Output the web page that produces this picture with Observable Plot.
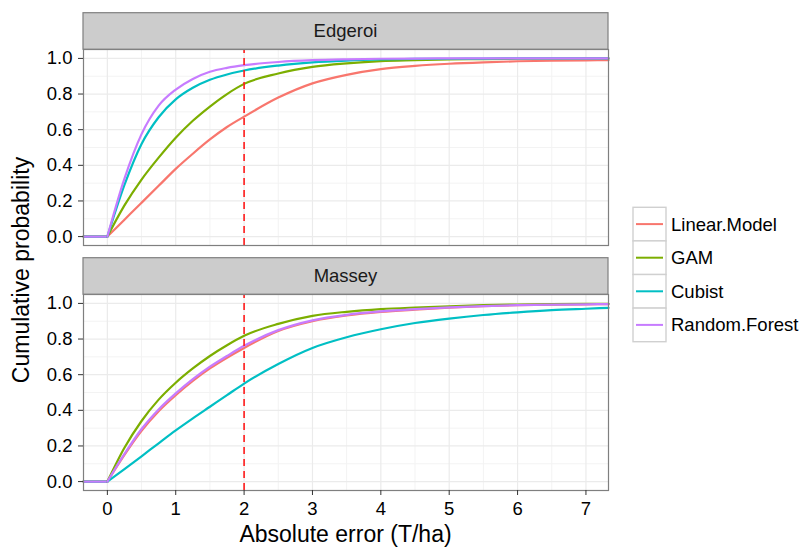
<!DOCTYPE html>
<html>
<head>
<meta charset="utf-8">
<script src="https://cdn.jsdelivr.net/npm/d3@7"></script>
<script src="https://cdn.jsdelivr.net/npm/@observablehq/plot@0.6"></script>
<style>
  html, body { margin: 0; padding: 0; background: #ffffff; }
  #chart { position: relative; width: 804px; height: 547px; }
</style>
</head>
<body>
<div id="chart"></div>
<script>
// ---- data ----
const sites = ["Edgeroi", "Massey"];
const methods = ["Linear.Model", "GAM", "Cubist", "Random.Forest"];
const methodColors = ["#F8766D", "#7CAE00", "#00BFC4", "#C77CFF"];

// absolute error (T/ha) at which the cumulative probabilities were read
const errX = [0, 0.25, 0.5, 0.75, 1, 1.25, 1.5, 1.75, 2, 2.5, 3, 3.5, 4, 4.5, 5, 5.5, 6, 6.5, 7, 7.33];

const edgeroiLinear = [0, 0.095, 0.19, 0.285, 0.38, 0.465, 0.545, 0.615, 0.673, 0.78, 0.86, 0.908, 0.94, 0.958, 0.97, 0.978, 0.984, 0.987, 0.989, 0.99];
const edgeroiGAM    = [0, 0.175, 0.32, 0.443, 0.555, 0.65, 0.73, 0.80, 0.857, 0.915, 0.952, 0.972, 0.985, 0.99, 0.994, 0.996, 0.998, 0.999, 1, 1];
const edgeroiCubist = [0, 0.29, 0.52, 0.67, 0.77, 0.835, 0.88, 0.91, 0.932, 0.96, 0.978, 0.988, 0.994, 0.997, 0.998, 0.999, 1, 1, 1, 1];
const edgeroiRF     = [0, 0.325, 0.575, 0.735, 0.825, 0.885, 0.925, 0.947, 0.962, 0.98, 0.99, 0.995, 0.998, 0.999, 1, 1, 1, 1, 1, 1];

const masseyLinear  = [0, 0.15, 0.285, 0.395, 0.485, 0.565, 0.635, 0.695, 0.75, 0.845, 0.90, 0.932, 0.952, 0.965, 0.976, 0.984, 0.99, 0.993, 0.995, 0.996];
const masseyGAM     = [0, 0.19, 0.34, 0.46, 0.555, 0.635, 0.705, 0.765, 0.818, 0.885, 0.93, 0.953, 0.968, 0.977, 0.984, 0.99, 0.994, 0.996, 0.997, 0.998];
const masseyCubist  = [0, 0.07, 0.142, 0.215, 0.287, 0.355, 0.42, 0.485, 0.55, 0.66, 0.75, 0.81, 0.855, 0.89, 0.915, 0.935, 0.95, 0.962, 0.97, 0.975];
const masseyRF      = [0, 0.155, 0.295, 0.405, 0.495, 0.575, 0.645, 0.705, 0.762, 0.85, 0.905, 0.936, 0.955, 0.968, 0.978, 0.985, 0.99, 0.993, 0.995, 0.996];

const cutoff = [2];
const xTicks = [0, 1, 2, 3, 4, 5, 6, 7];
const xMinor = [0.5, 1.5, 2.5, 3.5, 4.5, 5.5, 6.5];
const yTicks = [0, 0.2, 0.4, 0.6, 0.8, 1.0];
const yMinor = [0.1, 0.3, 0.5, 0.7, 0.9];
const xDomain = [-0.349, 7.33];
const yDomain = [-0.05, 1.05];

const xTitle = "Absolute error (T/ha)";
const yTitle = "Cumulative probability";

// ---- build tables ----
const seriesBySite = {
  Edgeroi: [edgeroiLinear, edgeroiGAM, edgeroiCubist, edgeroiRF],
  Massey: [masseyLinear, masseyGAM, masseyCubist, masseyRF]
};
const rows = [];
const pads = [];
sites.forEach(site => {
  methods.forEach((m, mi) => {
    const vals = seriesBySite[site][mi];
    vals.forEach((v, i) => rows.push({site, method: m, x: errX[i], y: v}));
    pads.push({site, method: m, x: xDomain[0], y: vals[0]});
    pads.push({site, method: m, x: errX[0], y: vals[0]});
  });
});

const FONT = '"Liberation Sans", Arial, Helvetica, sans-serif';
const W = 804, H = 547;
const mL = 83, mR = 196, mT = 49, mB = 56;

const svg = Plot.plot({
  width: W,
  height: H,
  marginLeft: mL,
  marginRight: mR,
  marginTop: mT,
  marginBottom: mB,
  style: {fontFamily: FONT, fontSize: "18.5px", color: "#000", background: "#fff", overflow: "visible"},
  x: {domain: xDomain},
  y: {domain: yDomain},
  fy: {domain: sites, paddingInner: 0.198, paddingOuter: 0, axis: null, label: null},
  color: {domain: methods, range: methodColors},
  marks: [
    Plot.ruleX(xMinor, {stroke: "#F3F3F3", strokeWidth: 1}),
    Plot.ruleY(yMinor, {stroke: "#F3F3F3", strokeWidth: 1}),
    Plot.ruleX(xTicks, {stroke: "#EBEBEB", strokeWidth: 1.2}),
    Plot.ruleY(yTicks, {stroke: "#EBEBEB", strokeWidth: 1.2}),
    Plot.line(pads, {x: "x", y: "y", z: "method", stroke: "method", fy: "site", strokeWidth: 2.2}),
    Plot.line(rows, {x: "x", y: "y", z: "method", stroke: "method", fy: "site", curve: "monotone-x", strokeWidth: 2.2, strokeLinejoin: "round"}),
    Plot.ruleX(cutoff, {y1: yDomain[0], y2: yDomain[1], stroke: "#FF1A1A", strokeWidth: 1.6, strokeDasharray: "7,5"}),
    Plot.frame({stroke: "#7F7F7F", strokeWidth: 1.2}),
    Plot.axisX({ticks: xTicks, tickSize: 5, tickPadding: 6.5, label: null, stroke: "#333333", fill: "#000"}),
    Plot.axisY({ticks: yTicks, tickFormat: d3.format(".1f"), tickSize: 5, tickPadding: 6, label: null, stroke: "#333333", fill: "#000"})
  ]
});

document.getElementById("chart").appendChild(svg);

// ---- decorations: facet strips, axis titles, legend ----
const s = d3.select(svg);
const panelRight = W - mR;
const stripH = 36.5;
const stripTops = [12.7, 257.7];
sites.forEach((site, i) => {
  s.append("rect")
    .attr("x", mL).attr("y", stripTops[i])
    .attr("width", panelRight - mL).attr("height", stripH)
    .attr("fill", "#CCCCCC").attr("stroke", "#7F7F7F").attr("stroke-width", 1.2);
  s.append("text")
    .attr("x", (mL + panelRight) / 2).attr("y", stripTops[i] + stripH / 2)
    .attr("text-anchor", "middle").attr("dy", "0.35em")
    .attr("font-family", FONT).attr("font-size", "18.5px").attr("fill", "#1A1A1A")
    .text(site);
});

s.append("text")
  .attr("x", (mL + panelRight) / 2).attr("y", 542)
  .attr("text-anchor", "middle")
  .attr("font-family", FONT).attr("font-size", "23px").attr("fill", "#000")
  .text(xTitle);

s.append("text")
  .attr("transform", `translate(29,${(mT + (H - mB)) / 2}) rotate(-90)`)
  .attr("text-anchor", "middle")
  .attr("font-family", FONT).attr("font-size", "23px").attr("fill", "#000")
  .text(yTitle);

const legX = 633, legTop = 207.3, keyW = 33, keyH = 33.6;
const leg = s.append("g").attr("text-anchor", "start");
methods.forEach((m, i) => {
  const y0 = legTop + i * keyH;
  leg.append("rect")
    .attr("x", legX).attr("y", y0).attr("width", keyW).attr("height", keyH)
    .attr("fill", "#fff").attr("stroke", "#D0D0D0").attr("stroke-width", 1.4);
});
methods.forEach((m, i) => {
  const yc = legTop + i * keyH + keyH / 2;
  leg.append("line")
    .attr("x1", legX + 3).attr("x2", legX + keyW - 3)
    .attr("y1", yc).attr("y2", yc)
    .attr("stroke", methodColors[i]).attr("stroke-width", 2);
  leg.append("text")
    .attr("x", legX + keyW + 5).attr("y", yc).attr("dy", "0.35em")
    .attr("text-anchor", "start")
    .attr("font-family", FONT).attr("font-size", "18.5px").attr("fill", "#000")
    .text(m);
});
</script>
</body>
</html>
